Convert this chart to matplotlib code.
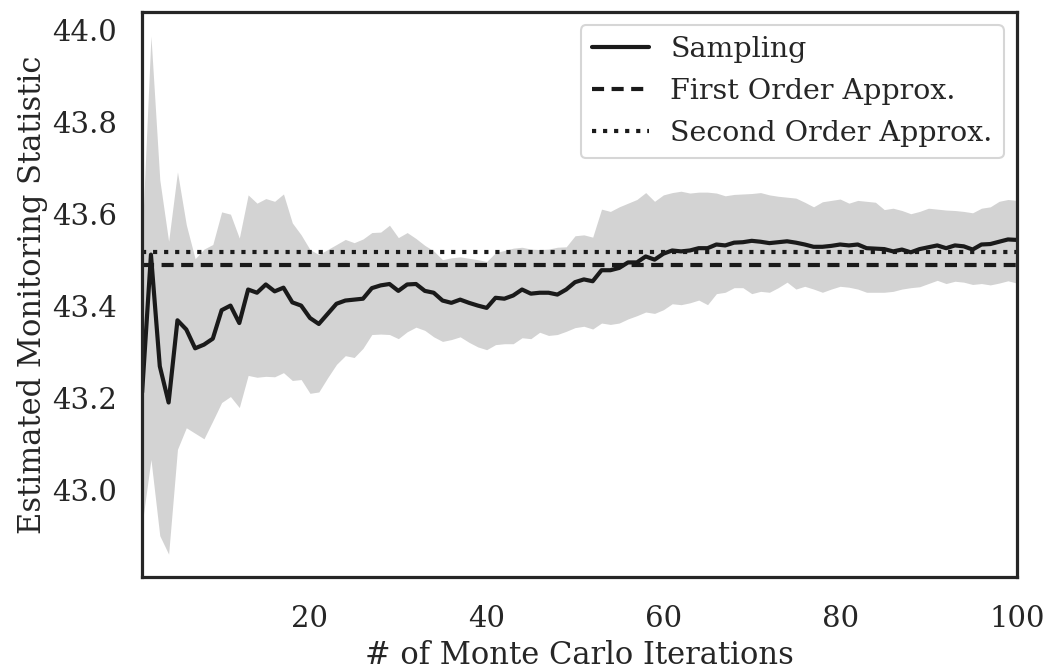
import numpy as np
import seaborn as sns
from matplotlib import pyplot as plt

# values
iterations = np.arange(1, 101)

sampling_mean = [
    43.212, 43.512, 43.269, 43.190, 43.369, 43.349, 43.308, 43.316, 43.329, 43.391,
    43.401, 43.363, 43.436, 43.429, 43.447, 43.432, 43.440, 43.408, 43.401, 43.374,
    43.361, 43.383, 43.405, 43.412, 43.414, 43.416, 43.439, 43.445, 43.448, 43.433,
    43.447, 43.448, 43.433, 43.429, 43.412, 43.407, 43.414, 43.407, 43.401, 43.396,
    43.418, 43.416, 43.423, 43.436, 43.427, 43.429, 43.429, 43.425, 43.436, 43.452,
    43.458, 43.454, 43.478, 43.478, 43.483, 43.495, 43.495, 43.508, 43.501, 43.514,
    43.521, 43.519, 43.521, 43.526, 43.526, 43.534, 43.532, 43.538, 43.539, 43.542,
    43.540, 43.537, 43.539, 43.541, 43.538, 43.534, 43.529, 43.529, 43.531, 43.534,
    43.532, 43.534, 43.526, 43.525, 43.524, 43.519, 43.523, 43.517, 43.524, 43.528,
    43.532, 43.526, 43.532, 43.530, 43.523, 43.534, 43.535, 43.540, 43.545, 43.544,
]

band_upper = [
    43.550, 43.988, 43.675, 43.541, 43.692, 43.577, 43.503, 43.524, 43.534, 43.605,
    43.600, 43.548, 43.642, 43.624, 43.634, 43.628, 43.644, 43.581, 43.555, 43.523,
    43.512, 43.523, 43.534, 43.545, 43.538, 43.546, 43.560, 43.561, 43.576, 43.549,
    43.560, 43.547, 43.532, 43.520, 43.501, 43.505, 43.507, 43.504, 43.501, 43.497,
    43.516, 43.521, 43.526, 43.528, 43.524, 43.523, 43.524, 43.528, 43.529, 43.553,
    43.555, 43.550, 43.611, 43.606, 43.616, 43.624, 43.632, 43.647, 43.628, 43.642,
    43.647, 43.650, 43.646, 43.648, 43.648, 43.646, 43.640, 43.643, 43.644, 43.645,
    43.647, 43.642, 43.639, 43.637, 43.635, 43.626, 43.616, 43.627, 43.630, 43.633,
    43.624, 43.630, 43.628, 43.626, 43.610, 43.613, 43.608, 43.601, 43.606, 43.613,
    43.611, 43.609, 43.608, 43.606, 43.603, 43.613, 43.616, 43.628, 43.632, 43.630,
]

band_lower = [
    42.925, 43.066, 42.900, 42.860, 43.088, 43.135, 43.123, 43.111, 43.150, 43.190,
    43.203, 43.179, 43.249, 43.245, 43.247, 43.246, 43.255, 43.238, 43.240, 43.210,
    43.213, 43.244, 43.273, 43.292, 43.288, 43.308, 43.338, 43.339, 43.338, 43.329,
    43.344, 43.354, 43.347, 43.333, 43.323, 43.327, 43.333, 43.321, 43.311, 43.305,
    43.316, 43.318, 43.318, 43.331, 43.329, 43.343, 43.336, 43.338, 43.345, 43.353,
    43.356, 43.350, 43.363, 43.360, 43.363, 43.372, 43.379, 43.387, 43.384, 43.392,
    43.405, 43.403, 43.407, 43.413, 43.403, 43.427, 43.430, 43.440, 43.440, 43.427,
    43.432, 43.430, 43.440, 43.452, 43.437, 43.443, 43.437, 43.430, 43.437, 43.443,
    43.441, 43.437, 43.430, 43.430, 43.430, 43.432, 43.437, 43.440, 43.442, 43.449,
    43.456, 43.449, 43.454, 43.452, 43.447, 43.449, 43.446, 43.450, 43.455, 43.450,
]

first_order = 43.490
second_order = 43.518

sns.set_style("white")
plt.rcParams['font.family'] = ['DejaVu Serif']
plt.rcParams['text.color'] = '#262626'
plt.rcParams['axes.labelcolor'] = '#262626'
plt.rcParams['xtick.color'] = '#262626'
plt.rcParams['ytick.color'] = '#262626'

fig = plt.figure(figsize=(10.45, 6.71), dpi=100)
ax = fig.add_axes([0.136, 0.140, 0.837, 0.842])

ax.fill_between(iterations, band_lower, band_upper, color='#d3d3d3', linewidth=0)
ax.plot(iterations, sampling_mean, color='#1a1a1a', lw=3, label='Sampling')
ax.axhline(first_order, color='#1a1a1a', lw=3, ls='--', dashes=(2.9, 1.8), label='First Order Approx.')
ax.axhline(second_order, color='#1a1a1a', lw=3, ls=':', label='Second Order Approx.')

ax.set_xlim(1, 100)
ax.set_ylim(42.81, 44.04)
ax.set_xticks([20, 40, 60, 80, 100])
ax.set_yticks([43.0, 43.2, 43.4, 43.6, 43.8, 44.0])
ax.tick_params(labelsize=21, length=0)
ax.tick_params(axis='y', pad=18)
ax.tick_params(axis='x', pad=20)
ax.set_xlabel('# of Monte Carlo Iterations', fontsize=22, labelpad=5)
ax.set_ylabel('Estimated Monitoring Statistic', fontsize=22, labelpad=3)

for s in ax.spines.values():
    s.set_color('#262626')
    s.set_linewidth(2.3)

leg = ax.legend(loc='upper right', fontsize=20.5, handlelength=2.0, handletextpad=0.75,
                borderaxespad=0.45, labelspacing=0.52, frameon=True, fancybox=True)
leg.get_frame().set_edgecolor('#cccccc')
leg.get_frame().set_linewidth(1.5)

fig.savefig('out.png', dpi=100)
